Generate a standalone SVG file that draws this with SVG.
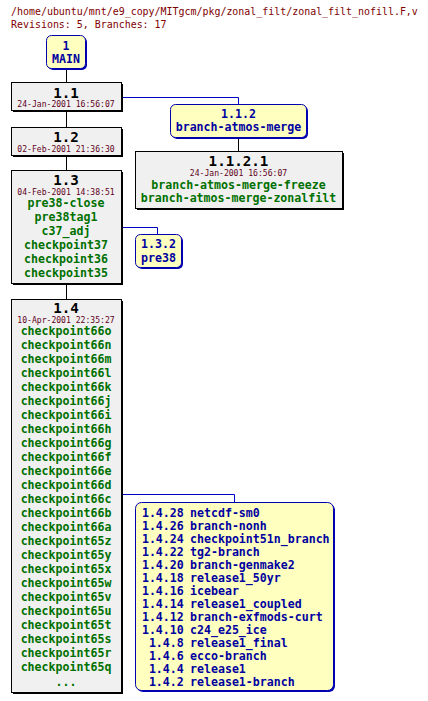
<svg xmlns="http://www.w3.org/2000/svg" width="428" height="701" viewBox="0 0 428 701">
<style>
text{font-family:"DejaVu Sans Mono","Liberation Mono",monospace;}
.title{font-size:9.95px;fill:#800000;}
.rev{font-size:14.2px;font-weight:bold;fill:#000;text-anchor:middle;}
.date{font-size:8.1px;fill:#600020;text-anchor:middle;}
.tag{font-size:11.6px;font-weight:bold;fill:#007000;text-anchor:middle;}
.br{font-size:11.6px;font-weight:bold;fill:#0000a0;text-anchor:middle;}
.bl{font-size:11.6px;font-weight:bold;fill:#0000a0;}
.bn{font-size:11.6px;font-weight:bold;fill:#0000a0;text-anchor:end;}
.box{fill:#f0f0f0;stroke:#000;stroke-width:1;}
.shadow{fill:#000;}
.bbox{fill:#ffffc0;stroke:#0000b0;stroke-width:1;}
.bshadow{fill:#0000b0;}
.k{stroke:#000;fill:none;stroke-width:1;}
.b{stroke:#0000c0;fill:none;stroke-width:1;}
</style>
<rect width="428" height="701" fill="#fff"/>
<text class="title" x="11" y="15">/home/ubuntu/mnt/e9_copy/MITgcm/pkg/zonal_filt/zonal_filt_nofill.F,v</text>
<text class="title" x="11" y="28">Revisions: 5, Branches: 17</text>
<g id="connectors">
<path class="k" d="M66.5 68V82M66.5 110V127M66.5 155V170M66.5 283V299M238.5 137V151"/>
<path class="b" d="M121 97.5H238.5V104M121 227.5H157.5V234M121 494.5H234.5V502"/>
</g>
<g id="MAIN">
<rect class="bshadow" x="48" y="37" width="39" height="33" rx="5"/>
<rect class="bbox" x="46.5" y="35.5" width="39" height="33" rx="5"/>
<text class="br" x="66" y="49.5">1</text>
<text class="br" x="66" y="62.5">MAIN</text>
</g>
<g id="r1.1">
<rect class="shadow" x="13" y="84" width="110" height="28"/>
<rect class="box" x="11.5" y="82.5" width="110" height="28"/>
<text class="rev" x="66" y="97.5">1.1</text>
<text class="date" x="66" y="107">24-Jan-2001 16:56:07</text>
</g>
<g id="r1.2">
<rect class="shadow" x="13" y="129" width="110" height="28"/>
<rect class="box" x="11.5" y="127.5" width="110" height="28"/>
<text class="rev" x="66" y="141.5">1.2</text>
<text class="date" x="66" y="151.5">02-Feb-2001 21:36:30</text>
</g>
<g id="r1.3">
<rect class="shadow" x="13" y="172" width="110" height="113"/>
<rect class="box" x="11.5" y="170.5" width="110" height="113"/>
<text class="rev" x="66" y="185">1.3</text>
<text class="date" x="66" y="195">04-Feb-2001 14:38:51</text>
<text class="tag" x="66" y="206.5">pre38-close</text>
<text class="tag" x="66" y="220.5">pre38tag1</text>
<text class="tag" x="66" y="234.5">c37_adj</text>
<text class="tag" x="66" y="248.5">checkpoint37</text>
<text class="tag" x="66" y="262.5">checkpoint36</text>
<text class="tag" x="66" y="276.5">checkpoint35</text>
</g>
<g id="r1.4">
<rect class="shadow" x="13" y="301" width="110" height="393"/>
<rect class="box" x="11.5" y="299.5" width="110" height="393"/>
<text class="rev" x="66" y="312.5">1.4</text>
<text class="date" x="66" y="322.5">10-Apr-2001 22:35:27</text>
<text class="tag" x="66" y="334.5">checkpoint66o</text>
<text class="tag" x="66" y="348.5">checkpoint66n</text>
<text class="tag" x="66" y="362.5">checkpoint66m</text>
<text class="tag" x="66" y="376.5">checkpoint66l</text>
<text class="tag" x="66" y="390.5">checkpoint66k</text>
<text class="tag" x="66" y="404.5">checkpoint66j</text>
<text class="tag" x="66" y="418.5">checkpoint66i</text>
<text class="tag" x="66" y="432.5">checkpoint66h</text>
<text class="tag" x="66" y="446.5">checkpoint66g</text>
<text class="tag" x="66" y="460.5">checkpoint66f</text>
<text class="tag" x="66" y="474.5">checkpoint66e</text>
<text class="tag" x="66" y="488.5">checkpoint66d</text>
<text class="tag" x="66" y="502.5">checkpoint66c</text>
<text class="tag" x="66" y="516.5">checkpoint66b</text>
<text class="tag" x="66" y="530.5">checkpoint66a</text>
<text class="tag" x="66" y="544.5">checkpoint65z</text>
<text class="tag" x="66" y="558.5">checkpoint65y</text>
<text class="tag" x="66" y="572.5">checkpoint65x</text>
<text class="tag" x="66" y="586.5">checkpoint65w</text>
<text class="tag" x="66" y="600.5">checkpoint65v</text>
<text class="tag" x="66" y="614.5">checkpoint65u</text>
<text class="tag" x="66" y="628.5">checkpoint65t</text>
<text class="tag" x="66" y="642.5">checkpoint65s</text>
<text class="tag" x="66" y="656.5">checkpoint65r</text>
<text class="tag" x="66" y="670.5">checkpoint65q</text>
<text class="tag" x="66" y="685.5">...</text>
</g>
<g id="b1.1.2">
<rect class="bshadow" x="172" y="106" width="136" height="33" rx="5"/>
<rect class="bbox" x="170.5" y="104.5" width="136" height="33" rx="5"/>
<text class="br" x="238.5" y="118">1.1.2</text>
<text class="br" x="238.5" y="131">branch-atmos-merge</text>
</g>
<g id="r1.1.2.1">
<rect class="shadow" x="137" y="153" width="207" height="57"/>
<rect class="box" x="135.5" y="151.5" width="207" height="57"/>
<text class="rev" x="238.5" y="166">1.1.2.1</text>
<text class="date" x="238.5" y="176">24-Jan-2001 16:56:07</text>
<text class="tag" x="238.5" y="188.5">branch-atmos-merge-freeze</text>
<text class="tag" x="238.5" y="202">branch-atmos-merge-zonalfilt</text>
</g>
<g id="b1.3.2">
<rect class="bshadow" x="137" y="236" width="46" height="33" rx="5"/>
<rect class="bbox" x="135.5" y="234.5" width="46" height="33" rx="5"/>
<text class="br" x="158.5" y="248">1.3.2</text>
<text class="br" x="158.5" y="261.5">pre38</text>
</g>
<g id="b1.4">
<rect class="bshadow" x="137" y="504" width="198" height="188" rx="6"/>
<rect class="bbox" x="135.5" y="502.5" width="198" height="188" rx="6"/>
<text class="bn" x="183.8" y="517">1.4.28</text><text class="bl" x="190" y="517">netcdf-sm0</text>
<text class="bn" x="183.8" y="530">1.4.26</text><text class="bl" x="190" y="530">branch-nonh</text>
<text class="bn" x="183.8" y="543">1.4.24</text><text class="bl" x="190" y="543">checkpoint51n_branch</text>
<text class="bn" x="183.8" y="556">1.4.22</text><text class="bl" x="190" y="556">tg2-branch</text>
<text class="bn" x="183.8" y="569">1.4.20</text><text class="bl" x="190" y="569">branch-genmake2</text>
<text class="bn" x="183.8" y="582">1.4.18</text><text class="bl" x="190" y="582">release1_50yr</text>
<text class="bn" x="183.8" y="595">1.4.16</text><text class="bl" x="190" y="595">icebear</text>
<text class="bn" x="183.8" y="608">1.4.14</text><text class="bl" x="190" y="608">release1_coupled</text>
<text class="bn" x="183.8" y="621">1.4.12</text><text class="bl" x="190" y="621">branch-exfmods-curt</text>
<text class="bn" x="183.8" y="634">1.4.10</text><text class="bl" x="190" y="634">c24_e25_ice</text>
<text class="bn" x="183.8" y="647">1.4.8</text><text class="bl" x="190" y="647">release1_final</text>
<text class="bn" x="183.8" y="660">1.4.6</text><text class="bl" x="190" y="660">ecco-branch</text>
<text class="bn" x="183.8" y="673">1.4.4</text><text class="bl" x="190" y="673">release1</text>
<text class="bn" x="183.8" y="686">1.4.2</text><text class="bl" x="190" y="686">release1-branch</text>
</g>
</svg>
